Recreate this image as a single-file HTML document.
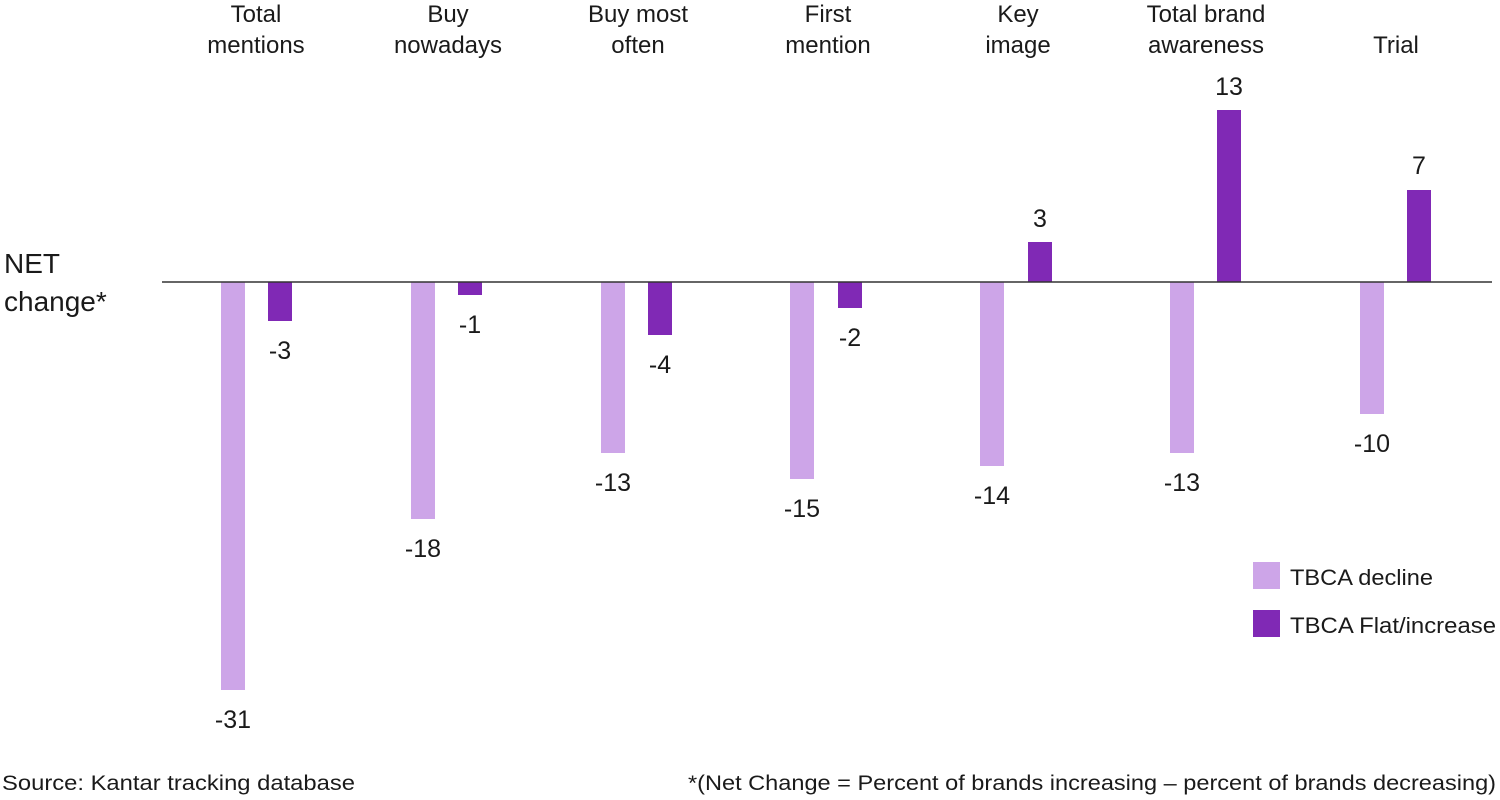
<!DOCTYPE html>
<html><head><meta charset="utf-8"><style>
html,body{margin:0;padding:0;background:#fff;}
svg{display:block;font-family:"Liberation Sans",sans-serif;}
</style></head><body>
<svg width="1500" height="800" viewBox="0 0 1500 800">
<g font-size="24" fill="#1a1a1a" text-anchor="middle">
<text x="256" y="22">Total</text><text x="256" y="53">mentions</text>
<text x="448" y="22">Buy</text><text x="448" y="53">nowadays</text>
<text x="638" y="22">Buy most</text><text x="638" y="53">often</text>
<text x="828" y="22">First</text><text x="828" y="53">mention</text>
<text x="1018" y="22">Key</text><text x="1018" y="53">image</text>
<text x="1206" y="22">Total brand</text><text x="1206" y="53">awareness</text>
<text x="1396" y="53">Trial</text>
</g>
<text x="4" y="273" font-size="28" fill="#1a1a1a">NET</text>
<text x="4" y="311" font-size="28" fill="#1a1a1a">change*</text>
<g fill="#CDA5E8">
<rect x="221" y="282" width="24" height="408"/>
<rect x="411" y="282" width="24" height="237"/>
<rect x="601" y="282" width="24" height="171"/>
<rect x="790" y="282" width="24" height="197"/>
<rect x="980" y="282" width="24" height="184"/>
<rect x="1170" y="282" width="24" height="171"/>
<rect x="1360" y="282" width="24" height="132"/>
</g>
<g fill="#8029B5">
<rect x="268" y="282" width="24" height="39"/>
<rect x="458" y="282" width="24" height="13"/>
<rect x="648" y="282" width="24" height="53"/>
<rect x="838" y="282" width="24" height="26"/>
<rect x="1028" y="242" width="24" height="40"/>
<rect x="1217" y="110" width="24" height="172"/>
<rect x="1407" y="190" width="24" height="92"/>
</g>
<line x1="162" y1="282" x2="1492" y2="282" stroke="#333" stroke-width="1.5"/>
<g font-size="25" fill="#1a1a1a" text-anchor="middle">
<text x="233" y="728">-31</text>
<text x="423" y="557">-18</text>
<text x="613" y="491">-13</text>
<text x="802" y="517">-15</text>
<text x="992" y="504">-14</text>
<text x="1182" y="491">-13</text>
<text x="1372" y="452">-10</text>
<text x="280" y="359">-3</text>
<text x="470" y="333">-1</text>
<text x="660" y="373">-4</text>
<text x="850" y="346">-2</text>
<text x="1040" y="227">3</text>
<text x="1229" y="95">13</text>
<text x="1419" y="174">7</text>
</g>
<rect x="1253" y="562" width="27" height="27" fill="#CDA5E8"/>
<rect x="1253" y="610" width="27" height="27" fill="#8029B5"/>
<text x="1290" y="585" font-size="22" fill="#1a1a1a" textLength="143" lengthAdjust="spacingAndGlyphs">TBCA decline</text>
<text x="1290" y="633" font-size="22" fill="#1a1a1a" textLength="206" lengthAdjust="spacingAndGlyphs">TBCA Flat/increase</text>
<text x="2" y="790" font-size="21" fill="#1a1a1a" textLength="353" lengthAdjust="spacingAndGlyphs">Source: Kantar tracking database</text>
<text x="688" y="790" font-size="21" fill="#1a1a1a" textLength="808" lengthAdjust="spacingAndGlyphs">*(Net Change = Percent of brands increasing – percent of brands decreasing)</text>
</svg>
</body></html>
